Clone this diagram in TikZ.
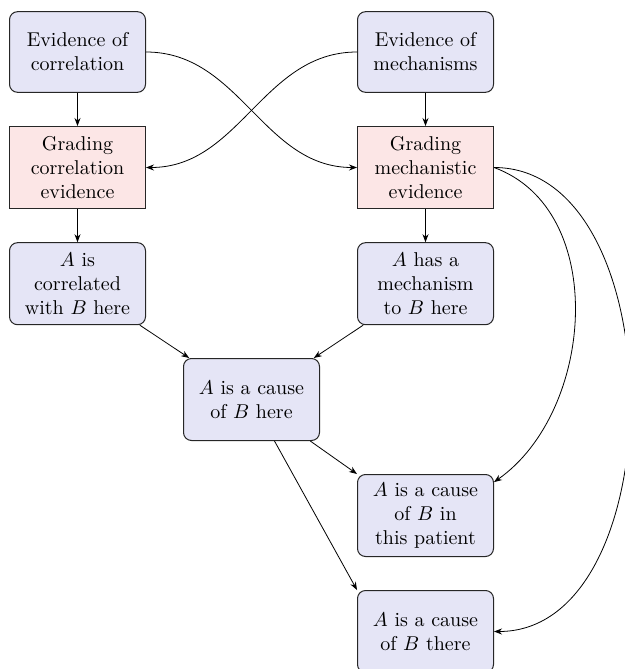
\documentclass[tikz,border=0pt]{standalone}
\usetikzlibrary{arrows.meta}
\definecolor{lav}{RGB}{229,229,246}
\definecolor{pinkish}{RGB}{252,230,230}
\begin{document}
\begin{tikzpicture}[x=0.5pt,y=-0.5pt,
  box/.style={draw=black!85, line width=0.5pt, minimum width=68pt, minimum height=41pt, align=center, inner sep=2pt},
  rbox/.style={box, rounded corners=4pt, fill=lav},
  gbox/.style={box, fill=pinkish},
  arr/.style={-{Stealth[length=4pt,width=3pt]}, line width=0.4pt}]
\useasboundingbox (0,0) rectangle (625,669);
\node[rbox, minimum height=40.3pt] (ec) at (77.5,52) {Evidence of\\correlation};
\node[rbox, minimum height=40.3pt] (em) at (425.5,52) {Evidence of\\mechanisms};
\node[gbox] (gc) at (77.5,167.5) {Grading\\correlation\\evidence};
\node[gbox] (gm) at (425.5,167.5) {Grading\\mechanistic\\evidence};
\node[rbox] (corr) at (77.5,283.7) {$A$ is\\correlated\\with $B$ here};
\node[rbox] (mech) at (425.5,283.7) {$A$ has a\\mechanism\\to $B$ here};
\node[rbox] (here) at (251.5,399.5) {$A$ is a cause\\of $B$ here};
\node[rbox] (patient) at (425.5,515.5) {$A$ is a cause\\of $B$ in\\this patient};
\node[rbox] (there) at (425.5,631.5) {$A$ is a cause\\of $B$ there};

\draw[arr] (ec) -- (gc);
\draw[arr] (em) -- (gm);
\draw[arr] (ec.east) to[out=0,in=180] (gm.west);
\draw[arr] (em.west) to[out=180,in=0] (gc.east);
\draw[arr] (gc) -- (corr);
\draw[arr] (gm) -- (mech);
\draw[arr] (corr) -- (here);
\draw[arr] (mech) -- (here);
\draw[arr] (here) -- (patient.north west);
\draw[arr] (here) -- (there.north west);
\draw[arr] (gm.east) to[out=-20,in=35] (patient.26);
\draw[arr] (gm.east) to[out=0,in=0] (there.east);
\end{tikzpicture}
\end{document}
